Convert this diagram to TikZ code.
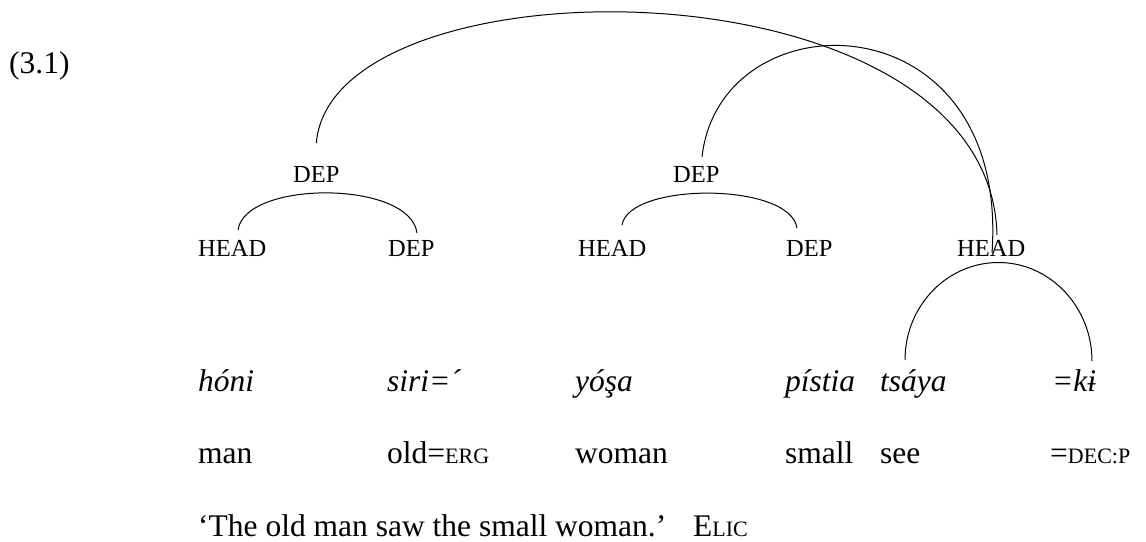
\documentclass[tikz,border=0pt]{standalone}
\usepackage{fontspec}
\setmainfont{Liberation Serif}
\usetikzlibrary{calc}
% small capitals faked at a reduced size (the serif face has no true small caps)
\newcommand\glosssc[1]{{\fontsize{22pt}{24pt}\selectfont #1}}
\begin{document}
\begin{tikzpicture}[x=1pt,y=-1pt,
  gl/.style={anchor=base west, inner sep=0pt, font=\fontsize{31.5pt}{36pt}\selectfont},
  vern/.style={anchor=base west, inner sep=0pt, font=\fontsize{31.5pt}{36pt}\selectfont\itshape},
  role/.style={anchor=base west, inner sep=0pt, font=\fontsize{24.5pt}{28pt}\selectfont},
  link/.style={line width=1pt}]
\useasboundingbox (0,0) rectangle (1146,541);

% example number
\node[gl] (num) at (9,73) {(3.1)};

% dependency roles
\node[role] (dtop1) at (293,182) {DEP};
\node[role] (dtop2) at (673,182) {DEP};
\node[role] (h1) at (198,256) {HEAD};
\node[role] (d1) at (388,256) {DEP};
\node[role] (h2) at (578,256) {HEAD};
\node[role] (d2) at (786,256) {DEP};
\node[role] (h3) at (957,256) {HEAD};

% vernacular line
\node[vern] (w1) at (198,391) {hóni};
\node[vern] (w2) at (387,391) {siri=´};
\node[vern] (w3) at (575,391) {yóşa};
\node[vern] (w4) at (785,391) {pístia};
\node[vern] (w5) at (880,391) {tsáya};
\node[vern] (w6) at (1052,391) {=kɨ};

% gloss line
\node[gl] (g1) at (198,463) {man};
\node[gl] (g2) at (387,463) {old=\glosssc{ERG}};
\node[gl] (g3) at (575,463) {woman};
\node[gl] (g4) at (785,463) {small};
\node[gl] (g5) at (880,463) {see};
\node[gl] (g6) at (1050,463) {=\glosssc{DEC:P}};

% free translation and source
\node[gl] (tr) at (198,536) {‘The old man saw the small woman.’};
\node[gl] (src) at (693,536) {E\glosssc{LIC}};

% head--dependent arcs inside the noun phrases
\draw[link] ($(h1.base west)+(40,-26)$) .. controls +(7,-50) and +(-7,-53) .. ($(d1.base west)+(29,-23)$);
\draw[link] ($(h2.base west)+(44,-31)$) .. controls +(7,-43) and +(-7,-46) .. ($(d2.base west)+(11,-28)$);

% clause-level arcs from the two noun phrases to the verb head
\draw[link] ($(dtop1.base)+(0,-39)$) .. controls +(15,-188) and +(-7,-280) .. ($(h3.base west)+(40,-21)$);
\draw[link] ($(dtop2.base west)+(29,-25)$) .. controls +(18,-162) and +(18,-258) .. ($(h3.base west)+(35,-3)$);

% verb head over the verb and its clitic
\coordinate (hl) at ($(w5.base west)+(25,-31)$);
\coordinate (hr) at ($(w6.base west)+(40,-30)$);
\coordinate (htop) at ($(hl)!0.5!(hr)+(0,-98)$);
\draw[link] (hl) .. controls +(0,-54) and +(-51.6,0) .. (htop)
            .. controls +(51.6,0) and +(0,-54) .. (hr);
\end{tikzpicture}
\end{document}
